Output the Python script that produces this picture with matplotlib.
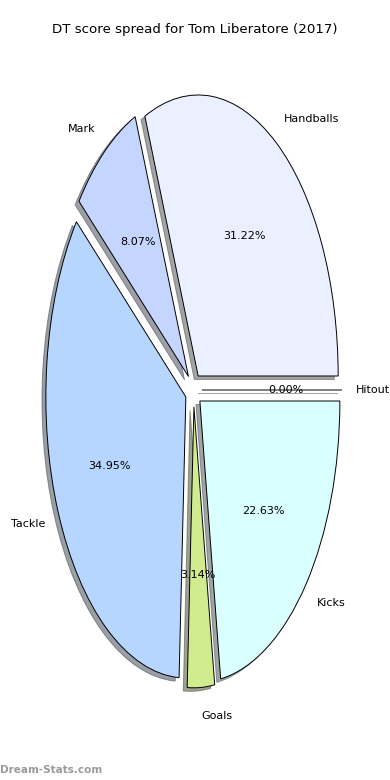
import matplotlib
matplotlib.use("Agg")
import matplotlib.pyplot as plt

categories = ["Handballs", "Mark", "Tackle", "Goals", "Kicks", "Hitout"]
values = [31.22, 8.07, 34.95, 3.14, 22.63, 0.00]
colors = ["#eaf0ff", "#c4d6ff", "#b6d6ff", "#d0ec8c", "#daffff", "#ffffff"]
title = "DT score spread for Tom Liberatore (2017)"
watermark = "Dream-Stats.com"

W, H = 390, 780
fig = plt.figure(figsize=(W / 100, H / 100), dpi=100)
cx, cy, rx, ry = 193.5, 390, 140, 281
ax = fig.add_axes([(cx - 1.25 * rx) / W, (H - cy - 1.25 * ry) / H,
                   2.5 * rx / W, 2.5 * ry / H])

wedges, texts, autotexts = ax.pie(
    values, labels=categories, colors=colors, explode=[0.06] * len(values),
    autopct="%.2f%%", pctdistance=0.6, labeldistance=1.1,
    shadow={"ox": -0.02, "oy": -0.009},
    startangle=0, counterclock=True,
    wedgeprops=dict(edgecolor="black", linewidth=0.7),
    textprops=dict(fontsize=8))
ax.set_aspect("auto")
ax.set_xlim(-1.25, 1.25)
ax.set_ylim(-1.25, 1.25)

fig.text(0.5, 1 - 30 / H, title, ha="center", va="center", fontsize=9.6)
fig.text(0.0, 1 - 770 / H, watermark, ha="left", va="center", fontsize=7.5,
         color="#9a9a9a", fontweight="bold")

fig.savefig("out.png", dpi=100)
